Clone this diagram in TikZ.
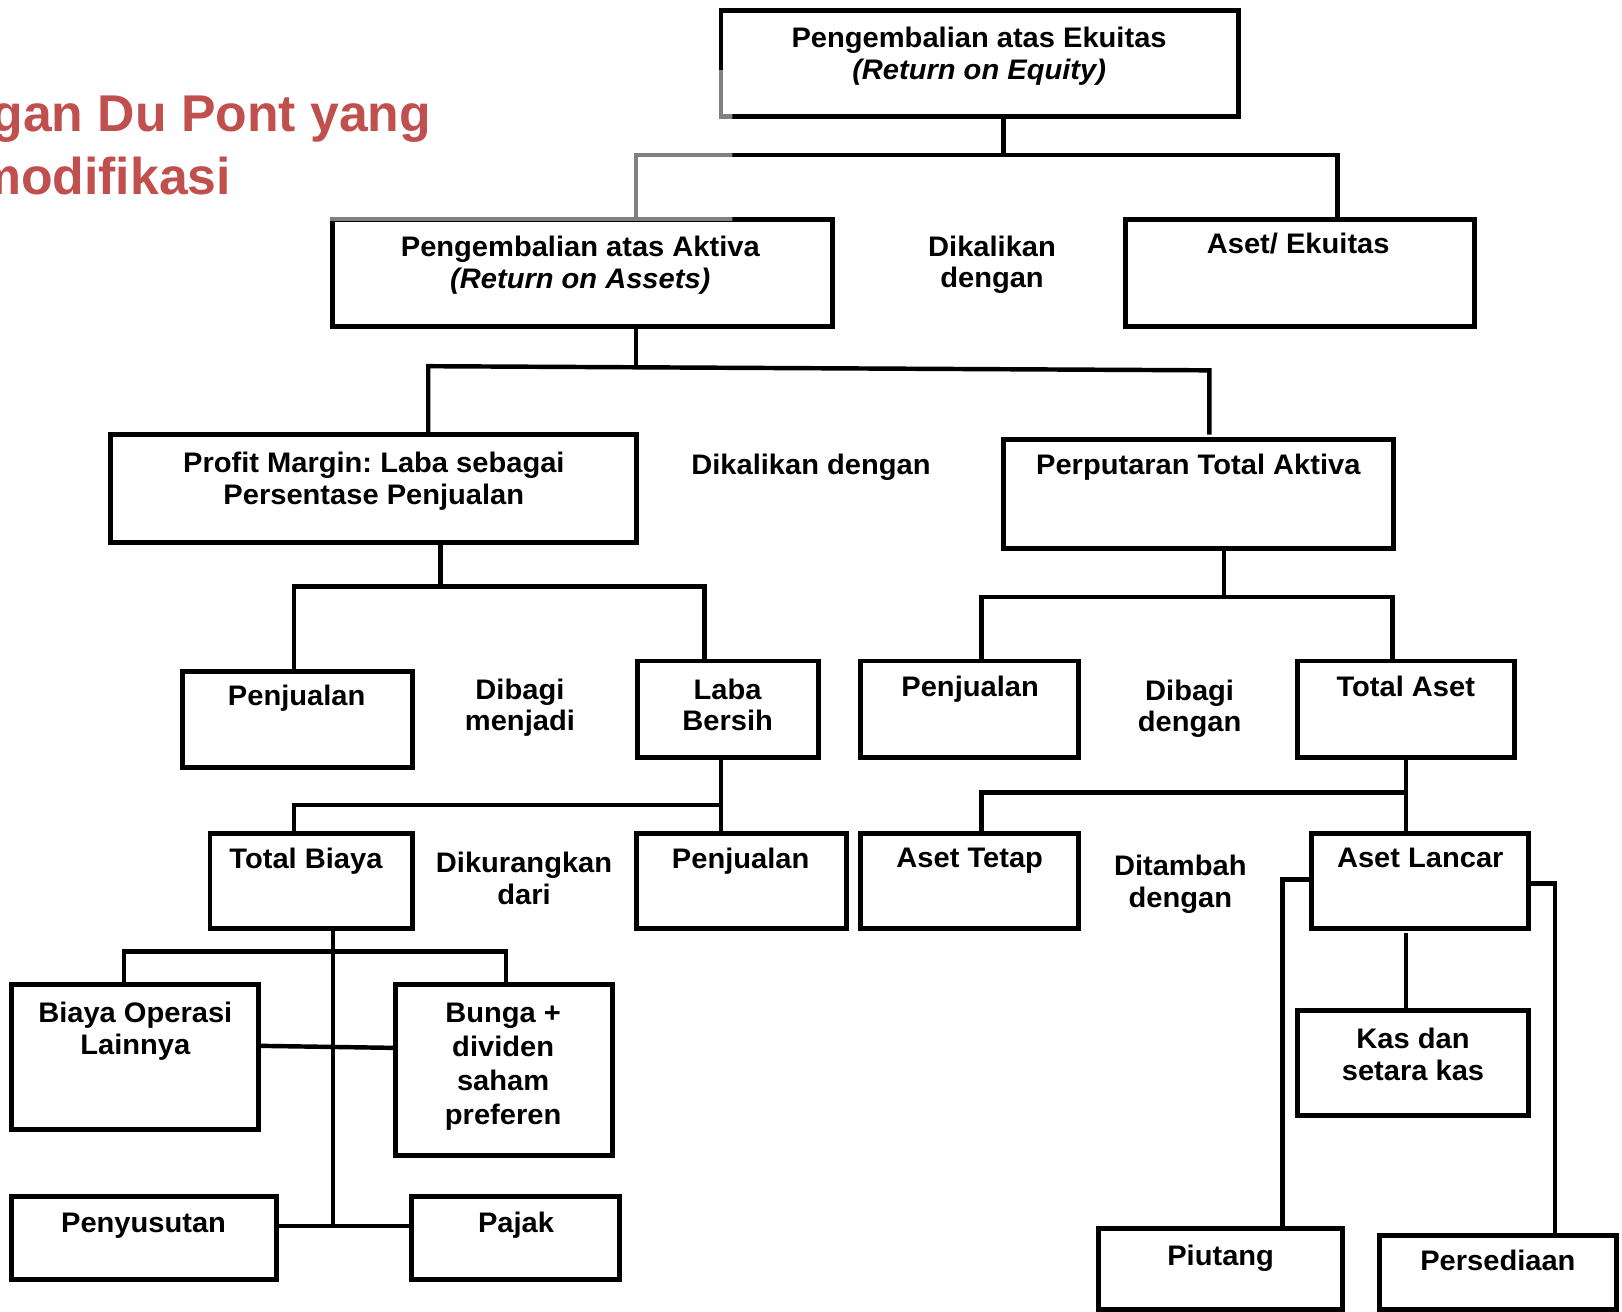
\documentclass[tikz,border=0pt]{standalone}
\usepackage{fontspec}
\setmainfont{Liberation Sans}
\newfontfamily\boxfont{Liberation Sans}[FakeStretch=1.03]
\newfontfamily\titlefont{Liberation Sans}
\definecolor{titlered}{HTML}{C0504D}
\frenchspacing
\newcommand\st{\rule{0pt}{22pt}}
\newcommand\nl{\\\st}
\newcommand\mkbox[5]{\node[bx, minimum width={#4-#2}, minimum height={#5-#3}] (#1) at ({(#2+#4)/2},{(#3+#5)/2}) {};}
\newcommand\lbl[4]{\node[tx] (#1) at (#2,{#3-22}) {\st #4};}
\begin{document}
\begin{tikzpicture}[x=1pt,y=-1pt,
  bx/.style={draw, line width=4.8pt, fill=white, rectangle, inner sep=0pt, outer sep=0pt},
  ln/.style={line width=4.3pt, line cap=rect},
  tx/.style={font={\boxfont\bfseries\fontsize{27.3}{30.8}\selectfont}, align=center, inner sep=0pt, outer sep=0pt, anchor=north},
  ttl/.style={font={\titlefont\bfseries\fontsize{50}{60}\selectfont}, text=titlered, inner sep=0pt, anchor=base east}]
\useasboundingbox (0,0) rectangle (1568,1268);
\clip (0,0) rectangle (1568,1268);

% title
\node[ttl] (t1) at (417,127.3) {gan Du Pont yang};
\node[ttl] (t2) at (223.5,188.5) {modifikasi};

% bus coordinates
\coordinate (b1) at (970,150);
\coordinate (b1l) at (615,150);
\coordinate (b1r) at (1293,150);
\coordinate (b2) at (615,354);
\coordinate (b2l) at (414,354);
\coordinate (b2r) at (1169,358);
\coordinate (b3) at (426,567);
\coordinate (b3l) at (284,567);
\coordinate (b3r) at (681,567);
\coordinate (b4) at (1183,577);
\coordinate (b4l) at (949,577);
\coordinate (b4r) at (1346,577);
\coordinate (b5) at (697,778);
\coordinate (b5l) at (284,778);
\coordinate (b6) at (1359,766);
\coordinate (b6l) at (949,766);
\coordinate (c1) at (1240,850);
\coordinate (c2) at (1503,854);
\coordinate (b8) at (322,920);
\coordinate (b8l) at (120,920);
\coordinate (b8r) at (489,920);
\coordinate (b8d) at (322,1185);
\coordinate (c3) at (0,1011);
\coordinate (c4) at (0,1013);

% boxes
\mkbox{roe}{697}{10}{1197}{113}
\mkbox{roa}{321}{212}{805}{316}
\mkbox{ae}{1088}{212}{1425}{316}
\mkbox{pm}{107}{420}{615}{524}
\mkbox{pta}{970}{425}{1347}{530}
\mkbox{pja}{176}{649}{399}{742}
\mkbox{lb}{616}{639}{791}{732}
\mkbox{pjb}{832}{639}{1043}{732}
\mkbox{ta}{1254}{639}{1464}{732}
\mkbox{tb}{203}{806}{399}{898}
\mkbox{pjc}{615}{806}{818}{898}
\mkbox{at}{832}{806}{1043}{898}
\mkbox{al}{1268}{806}{1478}{898}
\mkbox{bo}{11}{952}{250}{1092}
\mkbox{bg}{382}{952}{592}{1117}
\mkbox{ps}{11}{1157}{267}{1237}
\mkbox{pjk}{398}{1157}{599}{1237}
\mkbox{kas}{1254}{977}{1478}{1078}
\mkbox{pi}{1062}{1188}{1298}{1266}
\mkbox{pe}{1334}{1194}{1563}{1266}

% connectors
\draw[ln] (roe.south -| b1) -- (b1);
\draw[ln] (roa.north -| b1l) -- (b1l) -- (b1r) -- (ae.north -| b1r);
\draw[ln] (roa.south -| b2) -- (b2);
\draw[ln] (pm.north -| b2l) -- (b2l) -- (b2r) -- ([yshift=7pt]pta.north -| b2r);
\draw[ln] (pm.south -| b3) -- (b3);
\draw[ln] (pja.north -| b3l) -- (b3l) -- (b3r) -- (lb.north -| b3r);
\draw[ln] (pta.south -| b4) -- (b4);
\draw[ln] (pjb.north -| b4l) -- (b4l) -- (b4r) -- (ta.north -| b4r);
\draw[ln] (lb.south -| b5) -- (pjc.north -| b5);
\draw[ln] (tb.north -| b5l) -- (b5l) -- (b5);
\draw[ln] (ta.south -| b6) -- (al.north -| b6);
\draw[ln] (at.north -| b6l) -- (b6l) -- (b6);
\draw[ln] (al.west |- c1) -- (c1) -- (pi.north -| c1);
\draw[ln] (al.east |- c2) -- (c2) -- (pe.north -| c2);
\draw[ln] ([yshift=-6pt]al.south -| b6) -- (kas.north -| b6);
\draw[ln] (tb.south -| b8) -- (b8d);
\draw[ln] (bo.north -| b8l) -- (b8l) -- (b8r) -- (bg.north -| b8r);
\draw[ln] (bo.east |- c3) -- (bg.west |- c4);
\draw[ln] (ps.east |- b8d) -- (pjk.west |- b8d);

% grey overlay of the faded area
\begin{scope}
\clip (0,68) rectangle (708,213.5);
\draw[line width=4.8pt, black!50] (roe.north west) rectangle (roe.south east);
\draw[line width=4.8pt, black!50] (roa.north west) rectangle (roa.south east);
\draw[ln, black!50] (roa.north -| b1l) -- (b1l) -- (b1);
\end{scope}

% labels
\lbl{roeT}{946.5}{46}{Pengembalian atas Ekuitas\nl\textit{(Return on Equity)}}
\lbl{roaT}{561}{248}{Pengembalian atas Aktiva\nl\textit{(Return on Assets)}}
\lbl{aeT}{1255}{245}{Aset/ Ekuitas}
\lbl{dk1}{959}{247.5}{Dikalikan\nl dengan}
\lbl{pmT}{361.4}{456.5}{Profit Margin: Laba sebagai\nl Persentase Penjualan}
\lbl{dk2}{784}{459}{Dikalikan dengan}
\lbl{ptaT}{1158.4}{458.4}{Perputaran Total Aktiva}
\lbl{pjaT}{286.8}{682.4}{Penjualan}
\lbl{dbm}{502.6}{675.8}{Dibagi\nl menjadi}
\lbl{lbT}{703.4}{675.8}{Laba\nl Bersih}
\lbl{pjbT}{937.8}{673}{Penjualan}
\lbl{dbd}{1150}{676.8}{Dibagi\nl dengan}
\lbl{taT}{1359}{673}{Total Aset}
\lbl{tbT}{295.8}{839.8}{Total Biaya}
\lbl{dkd}{506.6}{843.6}{Dikurangkan\nl dari}
\lbl{pjcT}{716}{839.8}{Penjualan}
\lbl{atT}{937.4}{839}{Aset Tetap}
\lbl{dtd}{1141}{846.5}{Ditambah\nl dengan}
\lbl{alT}{1373}{839}{Aset Lancar}
\lbl{boT}{130.8}{988.7}{Biaya Operasi\nl Lainnya}
\node[tx, font={\boxfont\bfseries\fontsize{27.3}{32.7}\selectfont}] (bgT) at (486.4,966.7) {\st Bunga +\nl dividen\nl saham\nl preferen};
\lbl{psT}{138.8}{1191.7}{Penyusutan}
\lbl{pjkT}{498.9}{1191.7}{Pajak}
\lbl{kasT}{1366}{1013.5}{Kas dan\nl setara kas}
\lbl{piT}{1180}{1223}{Piutang}
\lbl{peT}{1448}{1227.8}{Persediaan}
\end{tikzpicture}
\end{document}
